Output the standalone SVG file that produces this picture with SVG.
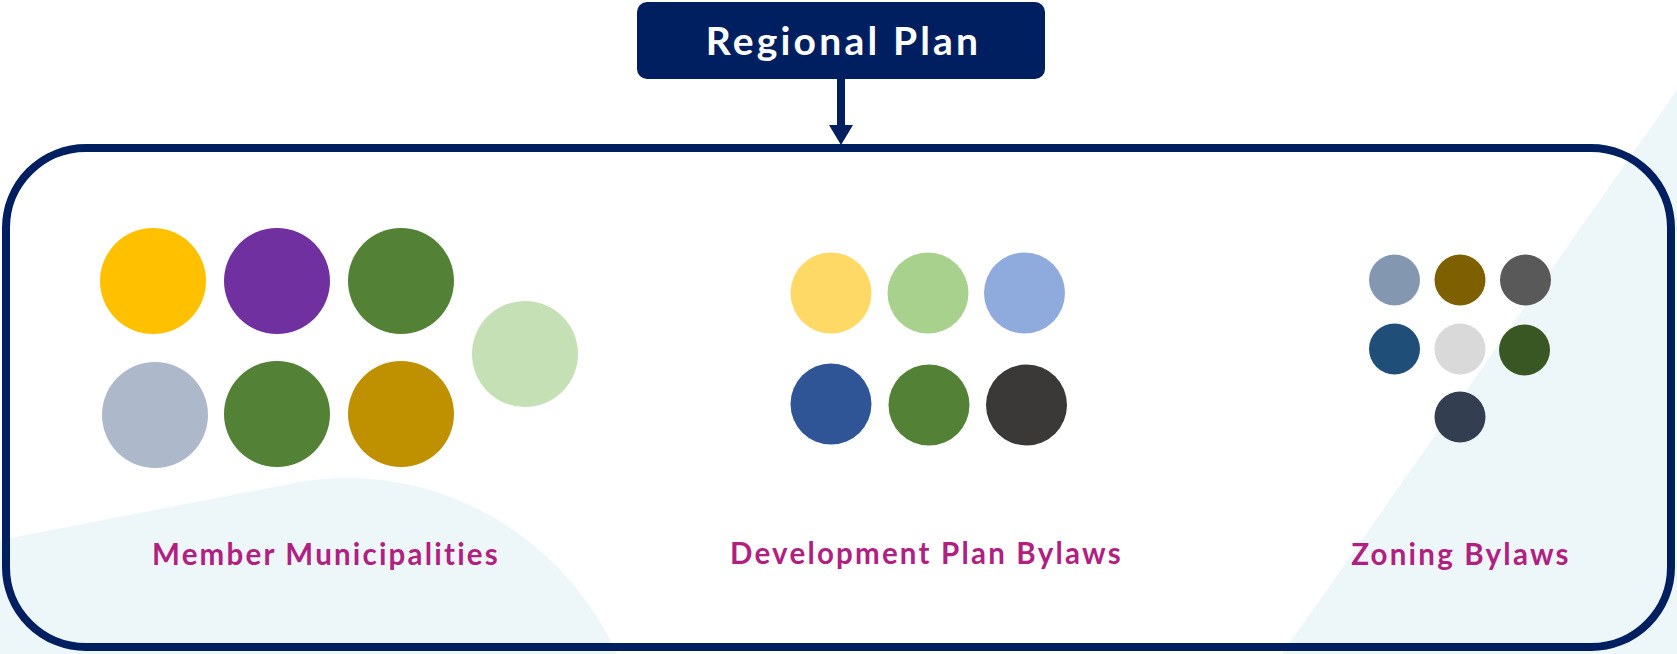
<svg xmlns="http://www.w3.org/2000/svg" width="1677" height="654" viewBox="0 0 1677 654">
  <style>
    .lbl { font-family: Lato, "Open Sans", "Liberation Sans", sans-serif; font-weight: 700; fill: #B01F81; font-size: 29.5px; letter-spacing: 2.2px; text-anchor: middle; }
    .title { font-family: Lato, "Open Sans", "Liberation Sans", sans-serif; font-weight: 700; fill: #FFFFFF; font-size: 39px; letter-spacing: 3.2px; text-anchor: middle; }
    .bg { fill: #EDF6F9; }
  </style>
  <defs>
    <marker id="arrow" viewBox="0 0 20 24" refX="1" refY="12" markerWidth="20" markerHeight="24" orient="auto" markerUnits="userSpaceOnUse">
      <path d="M0,0 L20,12 L0,24 Z" fill="#001F60"/>
    </marker>
  </defs>
  <rect width="1677" height="654" fill="#FFFFFF"/>
  <g id="background">
    <path class="bg" d="M0,540 L300,482 C 430,460 560,530 617,654 L0,654 Z"/>
    <path class="bg" d="M1282,654 L1677,90 L1677,654 Z"/>
  </g>
  <g id="container">
    <rect x="6" y="148" width="1665" height="499" rx="80" ry="80" fill="none" stroke="#001F60" stroke-width="8"/>
  </g>
  <g id="regional-plan">
    <rect x="637" y="2" width="408" height="77" rx="10" ry="10" fill="#001F60"/>
    <text class="title" x="843.5" y="55">Regional Plan</text>
  </g>
  <g id="connectors">
    <line x1="841" y1="79" x2="841" y2="126" stroke="#001F60" stroke-width="8" marker-end="url(#arrow)"/>
  </g>
  <g id="member-municipalities">
    <circle cx="153" cy="281" r="53" fill="#FFC000"/>
    <circle cx="277" cy="281" r="53" fill="#7030A0"/>
    <circle cx="401" cy="281" r="53" fill="#538135"/>
    <circle cx="525" cy="354" r="53" fill="#C5E0B4"/>
    <circle cx="155" cy="415" r="53" fill="#ADB9CA"/>
    <circle cx="277" cy="414" r="53" fill="#538135"/>
    <circle cx="401" cy="414" r="53" fill="#BF9000"/>
    <text class="lbl" x="326" y="565">Member Municipalities</text>
  </g>
  <g id="development-plan-bylaws">
    <circle cx="831" cy="293" r="40.5" fill="#FFD966"/>
    <circle cx="928" cy="293" r="40.5" fill="#A9D18E"/>
    <circle cx="1024.5" cy="293" r="40.5" fill="#8FAADC"/>
    <circle cx="831" cy="404" r="40.5" fill="#2F5597"/>
    <circle cx="929" cy="405" r="40.5" fill="#538135"/>
    <circle cx="1026.5" cy="405" r="40.5" fill="#3B3838"/>
    <text class="lbl" x="926.5" y="564">Development Plan Bylaws</text>
  </g>
  <g id="zoning-bylaws">
    <circle cx="1394.5" cy="280" r="25.5" fill="#8497B0"/>
    <circle cx="1460" cy="280" r="25.5" fill="#7F6000"/>
    <circle cx="1525.5" cy="280" r="25.5" fill="#595959"/>
    <circle cx="1394.5" cy="349" r="25.5" fill="#1F4E79"/>
    <circle cx="1460" cy="349" r="25.5" fill="#D9D9D9"/>
    <circle cx="1524.5" cy="350" r="25.5" fill="#385723"/>
    <circle cx="1460" cy="417" r="25.5" fill="#333F50"/>
    <text class="lbl" x="1461" y="565">Zoning Bylaws</text>
  </g>
</svg>
